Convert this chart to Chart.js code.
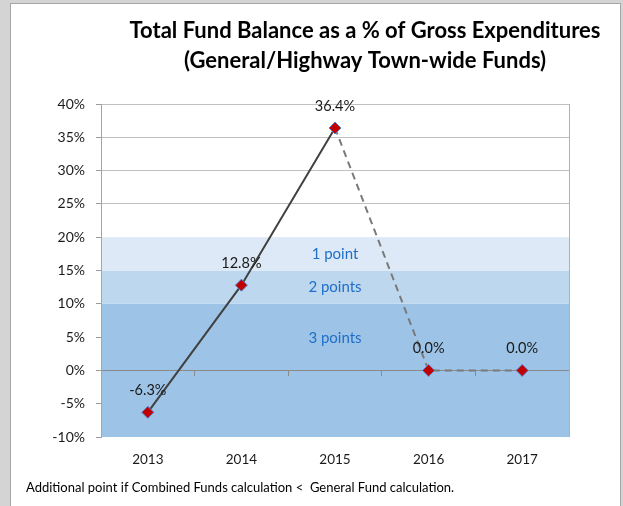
<!DOCTYPE html>
<html>
<head>
<meta charset="utf-8">
<script src="https://cdn.jsdelivr.net/npm/chart.js@4/dist/chart.umd.min.js"></script>
<style>
    body { margin: 0; background: #d4d4d4; width: 623px; height: 506px; overflow: hidden; position: relative; }
    #panel { position: absolute; left: 10px; top: 3px; width: 609px; height: 510px; background: #fff; border: 1px solid #a6a6a6; }
    #wrap { position: absolute; left: 0; top: 0; width: 623px; height: 506px; }
</style>
</head>
<body>
<div id="panel"></div>
<div id="wrap"><canvas id="chart"></canvas></div>
<script>
// Chart values
const years = ["2013", "2014", "2015", "2016", "2017"];
const fundBalance = [-6.3, 12.8, 36.4, 0.0, 0.0];
const yTicks = [-10, -5, 0, 5, 10, 15, 20, 25, 30, 35, 40];

// Scoring bands (from, to, colour) and their labels
const bandFrom = [-10, 10, 15];
const bandTo = [10, 15, 20];
const bandColors = ["#9dc3e6", "#bdd7ee", "#dde9f6"];
const bandLabels = ["3 points", "2 points", "1 point"];
const bandLabelValues = [4.8, 12.5, 17.5];

const titleLines = ["Total Fund Balance as a % of Gross Expenditures", "(General/Highway Town-wide Funds)"];
const footnote = "Additional point if Combined Funds calculation <  General Fund calculation.";

const FONT = "Lato, 'DejaVu Sans', sans-serif";

// Draw the coloured bands behind the grid
const bandsPlugin = {
    id: "bands",
    beforeDraw(chart) {
        const { ctx, chartArea, scales } = chart;
        ctx.save();
        bandFrom.forEach((from, i) => {
            const yTop = scales.y.getPixelForValue(bandTo[i]);
            const yBot = scales.y.getPixelForValue(from);
            ctx.fillStyle = bandColors[i];
            ctx.fillRect(chartArea.left, yTop, chartArea.right - chartArea.left, yBot - yTop);
        });
        ctx.restore();
    },
    beforeDatasetsDraw(chart) {
        const { ctx, chartArea, scales } = chart;
        ctx.save();
        // right border of plot
        ctx.strokeStyle = "#b0b0b0";
        ctx.lineWidth = 1;
        ctx.beginPath();
        ctx.moveTo(Math.round(chartArea.right) + 0.5, chartArea.top);
        ctx.lineTo(Math.round(chartArea.right) + 0.5, chartArea.bottom);
        ctx.stroke();
        // band labels
        ctx.fillStyle = "#1f6fc9";
        ctx.font = "15px " + FONT;
        ctx.textAlign = "center";
        ctx.textBaseline = "middle";
        const x = scales.x.getPixelForValue(2);
        bandLabels.forEach((label, i) => {
            ctx.fillText(label, x, scales.y.getPixelForValue(bandLabelValues[i]));
        });
        ctx.restore();
    },
};

// Value labels above points, title and footnote
const labelsPlugin = {
    id: "labels",
    afterDatasetsDraw(chart) {
        const { ctx } = chart;
        const meta = chart.getDatasetMeta(0);
        ctx.save();
        ctx.fillStyle = "#1a1a1a";
        ctx.font = "14.5px " + FONT;
        ctx.textAlign = "center";
        ctx.textBaseline = "middle";
        meta.data.forEach((pt, i) => {
            ctx.fillText(fundBalance[i].toFixed(1) + "%", pt.x, pt.y - 22);
        });
        ctx.restore();
    },
    afterDraw(chart) {
        const { ctx } = chart;
        ctx.save();
        ctx.fillStyle = "#000";
        ctx.textAlign = "center";
        ctx.textBaseline = "middle";
        ctx.font = "bold 22px " + FONT;
        ctx.fillText(titleLines[0], 365, 31);
        ctx.fillText(titleLines[1], 365, 61);
        ctx.textAlign = "left";
        ctx.font = "13px " + FONT;
        ctx.fillText(footnote, 26, 488);
        ctx.restore();
    },
};

new Chart(document.getElementById("chart"), {
    type: "line",
    data: {
        labels: years,
        datasets: [
            {
                data: fundBalance,
                borderColor: "#404040",
                borderWidth: 2,
                tension: 0,
                pointStyle: "rectRot",
                pointRadius: 6,
                pointHoverRadius: 6,
                pointBackgroundColor: "#c00000",
                pointBorderColor: "#5b7fd0",
                pointBorderWidth: 1,
                segment: {
                    borderColor: (c) => (c.p0DataIndex >= 2 ? "#7a7a7a" : "#404040"),
                    borderDash: (c) => (c.p0DataIndex >= 2 ? [7, 5] : []),
                },
            },
        ],
    },
    plugins: [bandsPlugin, labelsPlugin],
    options: {
        responsive: true,
        maintainAspectRatio: false,
        animation: false,
        layout: { padding: { left: 0, right: 54, top: 104, bottom: 0 } },
        plugins: {
            legend: { display: false },
            title: { display: false },
            tooltip: { enabled: false },
        },
        scales: {
            x: {
                type: "category",
                offset: true,
                grid: { display: false },
                border: { display: false },
                ticks: {
                    color: "#1a1a1a",
                    padding: 7,
                    font: { family: FONT, size: 13.5 },
                    maxRotation: 0,
                },
                afterFit: (scale) => { scale.height = 69; },
            },
            xZero: {
                type: "category",
                labels: years,
                position: { y: 0 },
                offset: true,
                grid: {
                    offset: true,
                    drawOnChartArea: false,
                    drawTicks: true,
                    tickLength: 5,
                    color: "#8a8a8a",
                },
                border: { display: true, color: "#8a8a8a", width: 1 },
                ticks: { display: false },
            },
            y: {
                min: -10,
                max: 40,
                afterBuildTicks: (scale) => {
                    scale.ticks = yTicks.map((v) => ({ value: v }));
                },
                grid: {
                    color: (c) => (c.tick && c.tick.value > 20 ? "#c0c0c0" : "rgba(0,0,0,0)"),
                    tickColor: "#9a9a9a",
                    tickLength: 5,
                },
                border: { display: true, color: "#a6a6a6" },
                ticks: {
                    color: "#1a1a1a",
                    padding: 11,
                    font: { family: FONT, size: 14 },
                    callback: (v) => v + "%",
                },
                afterFit: (scale) => { scale.width = 101; },
            },
        },
    },
});
</script>
</body>
</html>
